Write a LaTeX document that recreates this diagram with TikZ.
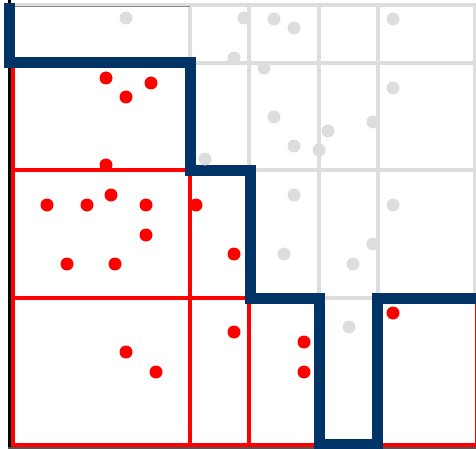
\documentclass[tikz,border=0pt]{standalone}
\definecolor{navy}{HTML}{003366}
\definecolor{lgray}{HTML}{DDDDDD}
\definecolor{axgray}{HTML}{555555}
\begin{document}
\begin{tikzpicture}[x=1pt,y=-1pt,
  gridline/.style={draw=lgray,line width=4pt},
  redline/.style={draw=red,line width=4pt},
  stair/.style={draw=navy,line width=11pt,line join=miter},
  rdot/.style={circle,fill=red,inner sep=0pt,minimum size=13pt},
  gdot/.style={circle,fill=lgray,inner sep=0pt,minimum size=13pt}]
\useasboundingbox (0,0) rectangle (476,449);
\fill[white] (0,0) rectangle (476,449);
% gray grid (upper region)
\foreach \yy in {5,63,170,298} \draw[gridline] (11,\yy) -- (476,\yy);
\foreach \xx in {190,249,319,378,475} \draw[gridline] (\xx,5) -- (\xx,298);
\draw[axgray!70,line width=0.8pt] (11,6.5) -- (190,6.5);
% red grid (lower region)
\draw[redline] (13,63) -- (13,445) -- (476,445);
\draw[red,line width=2pt] (475.5,298) -- (475.5,445);
\draw[redline] (13,170) -- (249,170);
\draw[redline] (13,298) -- (249,298);
\draw[redline] (190,63) -- (190,445);
\draw[redline] (249,170) -- (249,445);
% axes
\draw[black,line width=3pt] (9.5,0) -- (9.5,449);
\draw[axgray,line width=2pt] (8,448) -- (476,448);
% staircase
\draw[stair] (9,3) -- (9,63) -- (190.5,63) -- (190.5,170.5) -- (250,170.5) -- (250,298) -- (319,298) -- (319,444) -- (377,444) -- (377,298) -- (476,298);
% gray points
\node[gdot] (g1) at (126,18) {};
\node[gdot] (g2) at (244,18) {};
\node[gdot] (g3) at (274,19) {};
\node[gdot] (g4) at (294,28) {};
\node[gdot] (g5) at (393,19) {};
\node[gdot] (g6) at (234,58) {};
\node[gdot] (g7) at (264,68) {};
\node[gdot] (g8) at (393,88) {};
\node[gdot] (g9) at (274,117) {};
\node[gdot] (g10) at (294,146) {};
\node[gdot] (g11) at (319,150) {};
\node[gdot] (g12) at (328,131) {};
\node[gdot] (g13) at (373,122) {};
\node[gdot] (g14) at (205,159) {};
\node[gdot] (g15) at (294,195) {};
\node[gdot] (g16) at (393,205) {};
\node[gdot] (g17) at (284,254) {};
\node[gdot] (g18) at (353,264) {};
\node[gdot] (g19) at (373,244) {};
\node[gdot] (g20) at (349,327) {};
% red points
\node[rdot] (r1) at (106,78) {};
\node[rdot] (r2) at (151,83) {};
\node[rdot] (r3) at (126,97) {};
\node[rdot] (r4) at (106,165) {};
\node[rdot] (r5) at (47,205) {};
\node[rdot] (r6) at (87,205) {};
\node[rdot] (r7) at (111,195) {};
\node[rdot] (r8) at (146,205) {};
\node[rdot] (r9) at (196,205) {};
\node[rdot] (r10) at (146,235) {};
\node[rdot] (r11) at (67,264) {};
\node[rdot] (r12) at (115,264) {};
\node[rdot] (r13) at (234,254) {};
\node[rdot] (r14) at (234,332) {};
\node[rdot] (r15) at (126,352) {};
\node[rdot] (r16) at (156,372) {};
\node[rdot] (r17) at (304,342) {};
\node[rdot] (r18) at (304,372) {};
\node[rdot] (r19) at (393,313) {};
\end{tikzpicture}
\end{document}
